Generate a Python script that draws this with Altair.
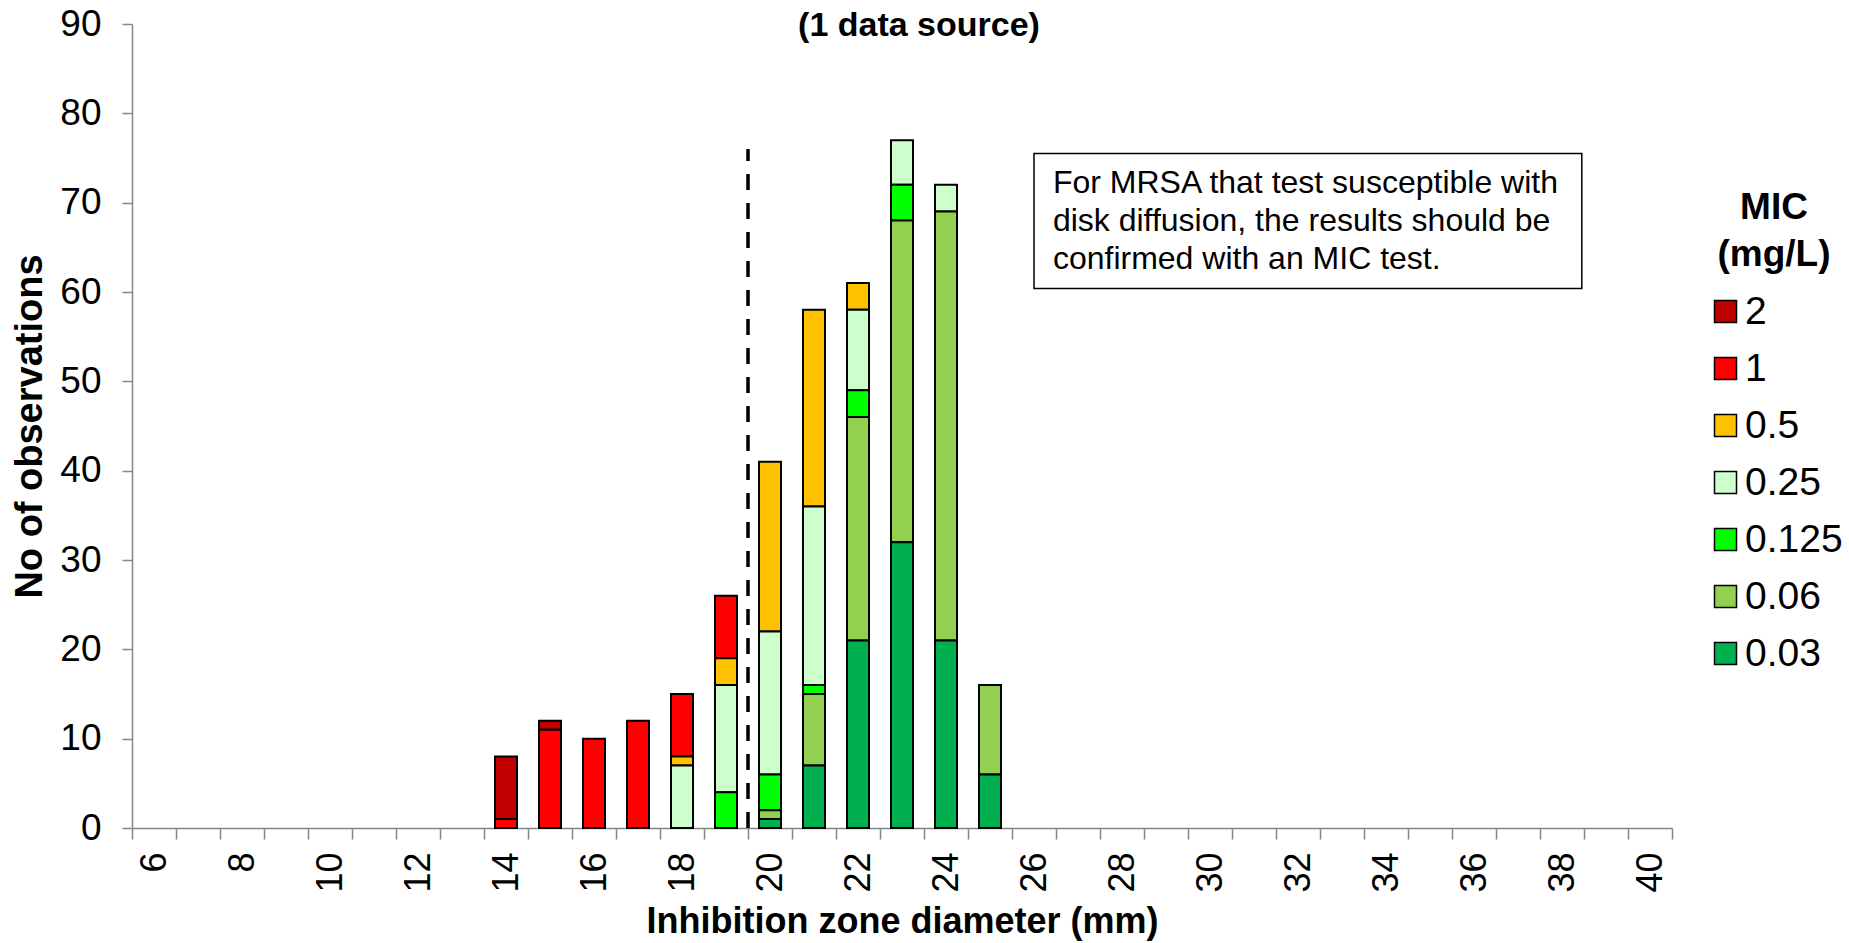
import altair as alt
import pandas as pd

FONT = "Liberation Sans"

# ---- data ----
zone_axis = list(range(6, 41))                 # x-axis categories (mm)
zones = [14, 15, 16, 17, 18, 19, 20, 21, 22, 23, 24, 25]
mic_classes = ["2", "1", "0.5", "0.25", "0.125", "0.06", "0.03"]
mic_colors = ["#C00000", "#FF0000", "#FFC000", "#CCFFCC", "#00FF00", "#92D050", "#00B050"]

mic_2 = [7, 1, 0, 0, 0, 0, 0, 0, 0, 0, 0, 0]
mic_1 = [1, 11, 10, 12, 7, 7, 0, 0, 0, 0, 0, 0]
mic_0_5 = [0, 0, 0, 0, 1, 3, 19, 22, 3, 0, 0, 0]
mic_0_25 = [0, 0, 0, 0, 7, 12, 16, 20, 9, 5, 3, 0]
mic_0_125 = [0, 0, 0, 0, 0, 4, 4, 1, 3, 4, 0, 0]
mic_0_06 = [0, 0, 0, 0, 0, 0, 1, 8, 25, 36, 48, 10]
mic_0_03 = [0, 0, 0, 0, 0, 0, 1, 7, 21, 32, 21, 6]

y_ticks = list(range(0, 91, 10))

breakpoint_x = [19.5]          # dashed breakpoint line (between 19 and 20 mm)
breakpoint_top = [76]

note_x = [26.0, 38.45]
note_y = [60.4, 75.5]
note_text_x = [26.43]
note_text_y = [71.1]
note_lines = ["For MRSA that test susceptible with",
              "disk diffusion, the results should be",
              "confirmed with an MIC test."]

# ---- tables ----
rows = []
for mic, series in zip(mic_classes, [mic_2, mic_1, mic_0_5, mic_0_25, mic_0_125, mic_0_06, mic_0_03]):
    for z, c in zip(zones, series):
        if c > 0:
            rows.append({"zone": z, "mic": mic, "mic_value": float(mic), "count": c})
bars_df = pd.DataFrame(rows)

rule_df = pd.DataFrame({"bx": breakpoint_x, "y0": [0], "y1": breakpoint_top})
box_df = pd.DataFrame({"x1": [note_x[0]], "x2": [note_x[1]], "y1": [note_y[0]], "y2": [note_y[1]]})
text_df = pd.DataFrame({"tx": note_text_x, "ty": note_text_y, "label": ["\n".join(note_lines)]})

yscale = alt.Scale(domain=[0, 90], nice=False, zero=True)
qx = alt.Scale(domain=[5.5, 40.5], nice=False, zero=False)

bars = alt.Chart(bars_df).mark_bar(
    width=alt.RelativeBandSize(0.5), stroke="black", strokeWidth=2
).encode(
    x=alt.X("zone:O",
            scale=alt.Scale(domain=zone_axis, paddingInner=0, paddingOuter=0),
            axis=alt.Axis(title="Inhibition zone diameter (mm)", labelAngle=270,
                          labelAlign="right", labelBaseline="middle",
                          labelExpr="datum.value % 2 == 0 ? datum.label : ''",
                          labelOverlap=False, labelFlush=False,
                          tickBand="extent", tickSize=11, labelPadding=13,
                          titlePadding=12, titleFontSize=36)),
    y=alt.Y("count:Q", stack="zero", scale=yscale,
            axis=alt.Axis(title="No of observations", values=y_ticks, tickSize=10,
                          labelPadding=21, titlePadding=10, grid=False,
                          labelFontSize=37, titleFontSize=38)),
    color=alt.Color("mic:N",
                    scale=alt.Scale(domain=mic_classes, range=mic_colors),
                    legend=alt.Legend(title=["MIC", "(mg/L)"], orient="none",
                                      legendX=1574, legendY=166)),
    order=alt.Order("mic_value:Q", sort="ascending"),
)

rule = alt.Chart(rule_df).mark_rule(
    color="black", strokeWidth=3.5, strokeDash=[16, 13]
).encode(
    x=alt.X("bx:Q", scale=qx, axis=None),
    y=alt.Y("y0:Q", scale=yscale),
    y2="y1:Q",
)

box = alt.Chart(box_df).mark_rect(fill="white", stroke="black", strokeWidth=1.5).encode(
    x=alt.X("x1:Q", scale=qx, axis=None),
    x2="x2:Q",
    y=alt.Y("y1:Q", scale=yscale),
    y2="y2:Q",
)

note = alt.Chart(text_df).mark_text(
    align="left", baseline="alphabetic", fontSize=32, lineHeight=38,
    font=FONT, lineBreak="\n", color="black"
).encode(
    x=alt.X("tx:Q", scale=qx, axis=None),
    y=alt.Y("ty:Q", scale=yscale),
    text="label:N",
)

chart = alt.layer(bars, rule, box, note).resolve_scale(x="independent").properties(
    width=1540, height=804,
    autosize=alt.AutoSizeParams(type="none"),
    padding={"left": 132, "top": 24, "right": 177, "bottom": 115},
    title=alt.TitleParams("(1 data source)", fontSize=34, fontWeight="bold", font=FONT,
                          anchor="middle", frame="group", offset=0, dy=38, dx=17,
                          color="black"),
).configure_view(stroke=None).configure_axis(
    labelFont=FONT, titleFont=FONT, labelFontSize=36, titleFontSize=36,
    titleFontWeight="bold", labelColor="black", titleColor="black",
    domainColor="#868686", tickColor="#868686", domainWidth=1.5, tickWidth=1.5,
).configure_legend(
    labelFont=FONT, titleFont=FONT, labelFontSize=39, titleFontSize=37,
    titleFontWeight="bold", titleLineHeight=47, titleAlign="center", titleAnchor="middle",
    titleColor="black", labelColor="black",
    symbolType="square", symbolSize=484, symbolStrokeColor="black", symbolStrokeWidth=1.5,
    symbolOpacity=1, labelOffset=0, rowPadding=17, titlePadding=18, padding=0,
)

chart.save("out.html", embed_options={"renderer": "svg", "actions": False})
